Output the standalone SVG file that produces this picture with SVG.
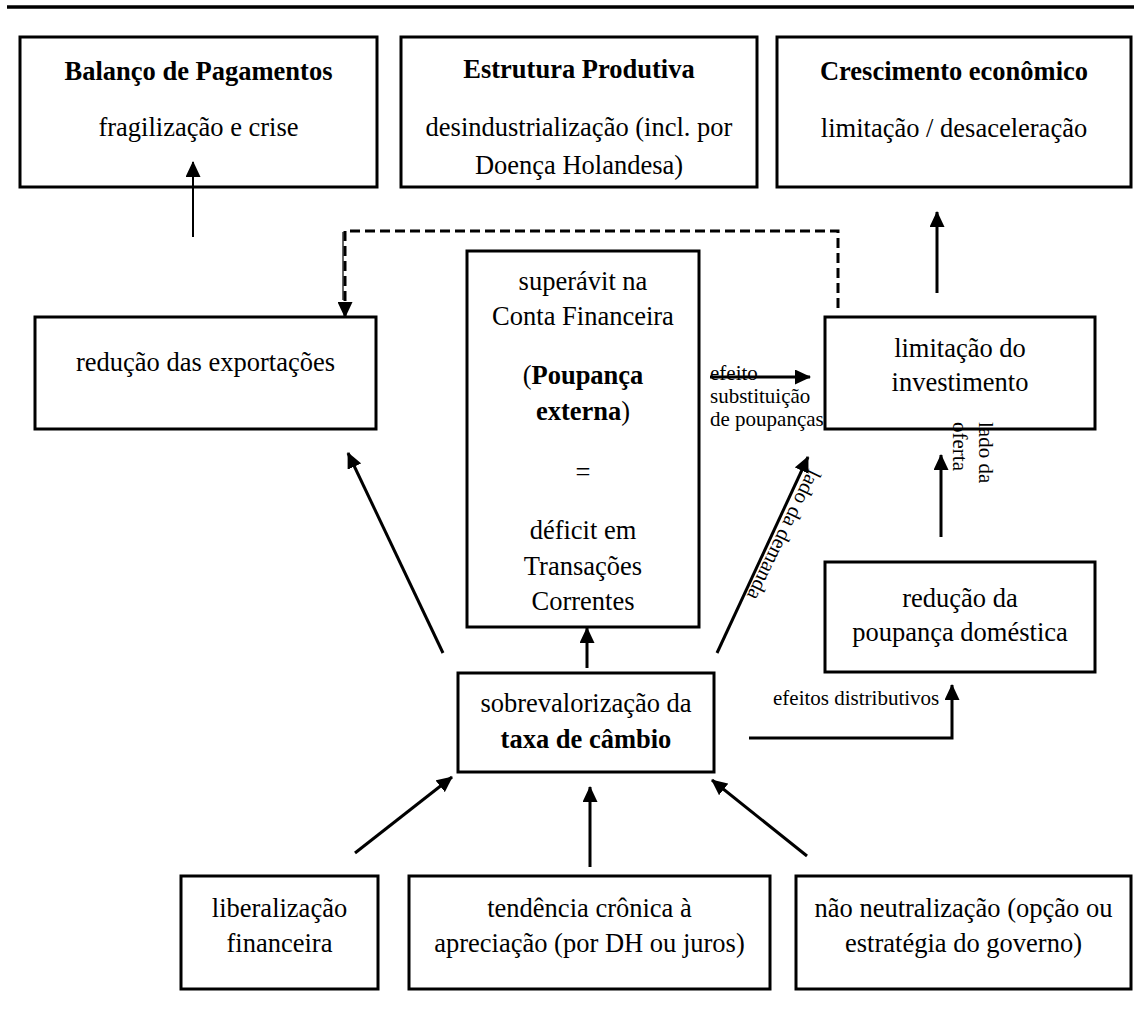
<svg xmlns="http://www.w3.org/2000/svg" width="1134" height="1028" viewBox="0 0 1134 1028">
<style>
  .box{fill:#fff;stroke:#000;stroke-width:3}
  .t{font-family:"Liberation Serif","Times New Roman",serif;font-size:26.5px;fill:#000;text-anchor:middle}
  .b{font-weight:bold}
  .s{font-family:"Liberation Serif","Times New Roman",serif;font-size:21px;fill:#000}
  .ln{fill:none;stroke:#000;stroke-width:3}
  .thin{fill:none;stroke:#000;stroke-width:2}
  .dash{fill:none;stroke:#000;stroke-width:3;stroke-dasharray:10,5}
</style>
<defs>
  <marker id="ah" markerUnits="userSpaceOnUse" markerWidth="16" markerHeight="15" refX="15" refY="7.5" orient="auto">
    <path d="M0,0 L16,7.5 L0,15 z" fill="#000"/>
  </marker>
</defs>
<rect width="1134" height="1028" fill="#fff"/>
<line x1="7" y1="7" x2="1134" y2="7" stroke="#000" stroke-width="3.5"/>

<g id="balanco">
  <rect class="box" x="20" y="37" width="357" height="150"/>
  <text class="t b" x="198.5" y="80">Balanço de Pagamentos</text>
  <text class="t" x="198.5" y="136">fragilização e crise</text>
</g>
<g id="estrutura">
  <rect class="box" x="401" y="37" width="356" height="150"/>
  <text class="t b" x="579" y="78">Estrutura Produtiva</text>
  <text class="t" x="579" y="136">desindustrialização (incl. por</text>
  <text class="t" x="579" y="174">Doença Holandesa)</text>
</g>
<g id="crescimento">
  <rect class="box" x="777" y="37" width="354" height="150"/>
  <text class="t b" x="954" y="80">Crescimento econômico</text>
  <text class="t" x="954" y="137">limitação / desaceleração</text>
</g>
<g id="reducao-exportacoes">
  <rect class="box" x="35" y="317" width="341" height="112"/>
  <text class="t" x="205.5" y="371">redução das exportações</text>
</g>
<g id="superavit">
  <rect class="box" x="467" y="251" width="232" height="376"/>
  <text class="t" x="583" y="290">superávit na</text>
  <text class="t" x="583" y="325">Conta Financeira</text>
  <text class="t" x="583" y="384">(<tspan class="b">Poupança</tspan></text>
  <text class="t" x="583" y="420"><tspan class="b">externa</tspan>)</text>
  <text class="t" x="583" y="481">=</text>
  <text class="t" x="583" y="539">déficit em</text>
  <text class="t" x="583" y="575">Transações</text>
  <text class="t" x="583" y="610">Correntes</text>
</g>
<g id="limitacao-investimento">
  <rect class="box" x="825" y="317" width="270" height="112"/>
  <text class="t" x="960" y="357">limitação do</text>
  <text class="t" x="960" y="391">investimento</text>
</g>
<g id="reducao-poupanca">
  <rect class="box" x="825" y="562" width="270" height="110"/>
  <text class="t" x="960" y="607">redução da</text>
  <text class="t" x="960" y="641">poupança doméstica</text>
</g>
<g id="sobrevalorizacao">
  <rect class="box" x="458" y="673" width="256" height="99"/>
  <text class="t" x="586" y="712">sobrevalorização da</text>
  <text class="t b" x="586" y="748">taxa de câmbio</text>
</g>
<g id="liberalizacao">
  <rect class="box" x="181" y="876" width="197" height="113"/>
  <text class="t" x="279.5" y="917">liberalização</text>
  <text class="t" x="279.5" y="952">financeira</text>
</g>
<g id="tendencia">
  <rect class="box" x="409" y="876" width="361" height="113"/>
  <text class="t" x="589.5" y="917">tendência crônica à</text>
  <text class="t" x="589.5" y="952">apreciação (por DH ou juros)</text>
</g>
<g id="nao-neutralizacao">
  <rect class="box" x="796" y="876" width="335" height="113"/>
  <text class="t" x="963.5" y="917">não neutralização (opção ou</text>
  <text class="t" x="963.5" y="952">estratégia do governo)</text>
</g>

<g id="connectors">
  <line class="thin" x1="193" y1="237" x2="193" y2="162" marker-end="url(#ah)"/>
  <line class="ln" x1="937" y1="293" x2="937" y2="212" marker-end="url(#ah)"/>
  <path class="dash" d="M838,308 L838,231 L345,231 L345,317" marker-end="url(#ah)"/>
  <line stroke="#000" stroke-width="1.2" x1="343" y1="232" x2="343" y2="300"/>
  <line class="ln" x1="710" y1="377" x2="810" y2="377" marker-end="url(#ah)"/>
  <line class="ln" x1="941" y1="537" x2="941" y2="455" marker-end="url(#ah)"/>
  <line class="ln" x1="587" y1="668" x2="587" y2="628" marker-end="url(#ah)"/>
  <line class="ln" x1="443" y1="653" x2="348" y2="453" marker-end="url(#ah)"/>
  <line class="ln" x1="717" y1="653" x2="808" y2="457" marker-end="url(#ah)"/>
  <path class="ln" d="M749,738 L952,738 L952,685" marker-end="url(#ah)"/>
  <line class="ln" x1="355" y1="853" x2="452" y2="777" marker-end="url(#ah)"/>
  <line class="ln" x1="590" y1="867" x2="590" y2="787" marker-end="url(#ah)"/>
  <line class="ln" x1="807" y1="856" x2="712" y2="780" marker-end="url(#ah)"/>
  <text class="s" x="710" y="380">efeito</text>
  <text class="s" x="710" y="403">substituição</text>
  <text class="s" x="710" y="426">de poupanças</text>
  <text class="s" x="773" y="705">efeitos distributivos</text>
  <text class="s" transform="translate(809,468) rotate(116)">lado da demanda</text>
  <text class="s" transform="translate(979,422) rotate(90)">lado da</text>
  <text class="s" transform="translate(953,422) rotate(90)">oferta</text>
</g>
</svg>
